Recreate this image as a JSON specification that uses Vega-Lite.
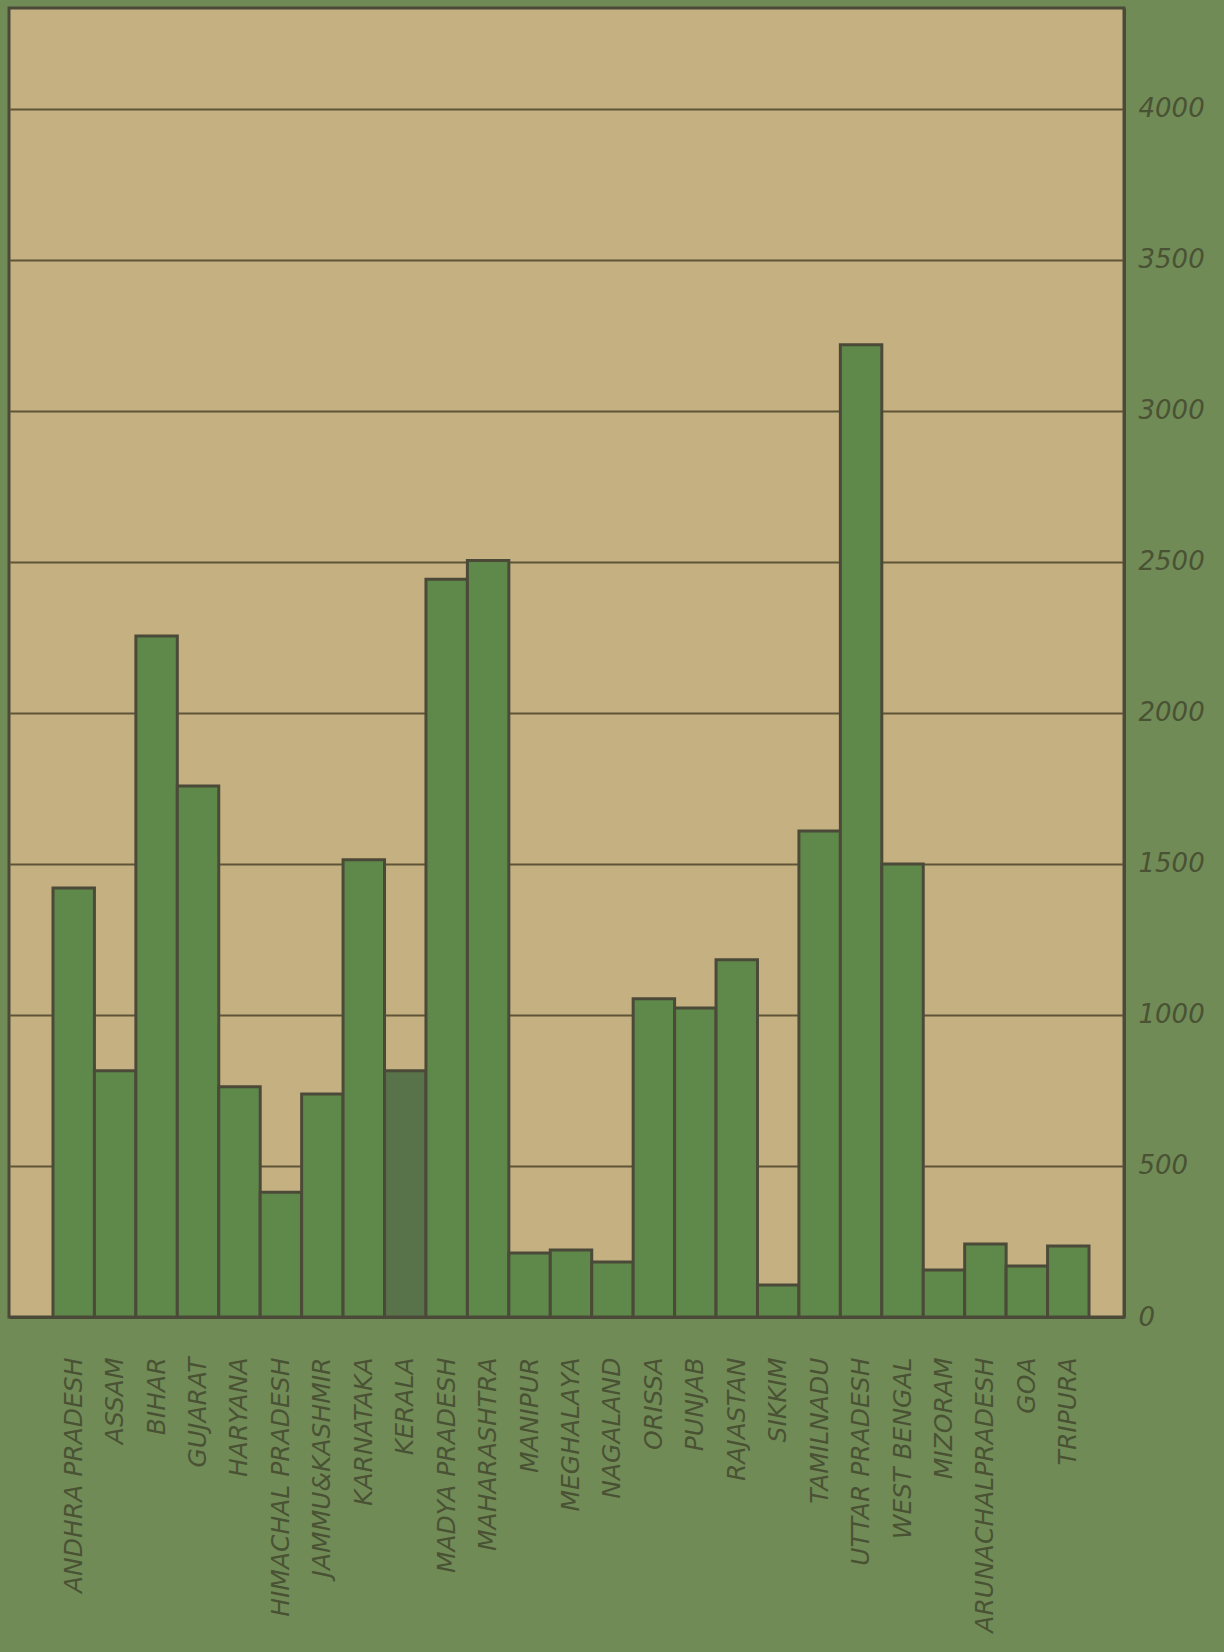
{
  "$schema": "https://vega.github.io/schema/vega-lite/v6.json",
  "width": 1115,
  "height": 1309,
  "autosize": {"type": "none"},
  "padding": {"left": 9, "top": 8, "right": 100, "bottom": 335},
  "background": "#718b57",
  "config": {
    "view": {"fill": "#c4b080", "stroke": "#4b4a38", "strokeWidth": 3},
    "axis": {"labelFont": "DejaVu Sans", "labelFontStyle": "italic", "labelColor": "#4a5234"}
  },
  "data": {
    "values": [
      {"state": "ANDHRA PRADESH", "value": 1420},
      {"state": "ASSAM", "value": 815},
      {"state": "BIHAR", "value": 2255},
      {"state": "GUJARAT", "value": 1758},
      {"state": "HARYANA", "value": 762},
      {"state": "HIMACHAL PRADESH", "value": 413},
      {"state": "JAMMU&KASHMIR", "value": 738},
      {"state": "KARNATAKA", "value": 1514},
      {"state": "KERALA", "value": 815},
      {"state": "MADYA PRADESH", "value": 2443},
      {"state": "MAHARASHTRA", "value": 2505},
      {"state": "MANIPUR", "value": 212},
      {"state": "MEGHALAYA", "value": 222},
      {"state": "NAGALAND", "value": 182},
      {"state": "ORISSA", "value": 1054},
      {"state": "PUNJAB", "value": 1023},
      {"state": "RAJASTAN", "value": 1183},
      {"state": "SIKKIM", "value": 106},
      {"state": "TAMILNADU", "value": 1609},
      {"state": "UTTAR PRADESH", "value": 3219},
      {"state": "WEST BENGAL", "value": 1500},
      {"state": "MIZORAM", "value": 156},
      {"state": "ARUNACHALPRADESH", "value": 242},
      {"state": "GOA", "value": 169},
      {"state": "TRIPURA", "value": 235}
    ]
  },
  "mark": {"type": "bar", "stroke": "#4b4a38", "strokeWidth": 3},
  "encoding": {
    "x": {
      "field": "state",
      "type": "nominal",
      "sort": null,
      "scale": {"paddingInner": 0, "paddingOuter": 0.953, "align": 0.557},
      "axis": {
        "title": null,
        "orient": "bottom",
        "labelAngle": -90,
        "labelFontSize": 25,
        "labelPadding": 40,
        "ticks": false,
        "domain": true,
        "domainColor": "#4b4a38",
        "domainWidth": 3,
        "labelLimit": 400
      }
    },
    "y": {
      "field": "value",
      "type": "quantitative",
      "scale": {"domain": [0, 4334], "nice": false, "zero": true},
      "axis": {
        "title": null,
        "orient": "right",
        "values": [0, 500, 1000, 1500, 2000, 2500, 3000, 3500, 4000],
        "format": "d",
        "grid": true,
        "gridColor": "#5e5439",
        "gridWidth": 2,
        "ticks": false,
        "domain": true,
        "domainColor": "#4b4a38",
        "domainWidth": 3,
        "labelFontSize": 26,
        "labelPadding": 14,
        "labelAlign": "left"
      }
    },
    "color": {
      "condition": {"test": "datum.state === 'KERALA'", "value": "#587249"},
      "value": "#5f894b"
    }
  }
}
